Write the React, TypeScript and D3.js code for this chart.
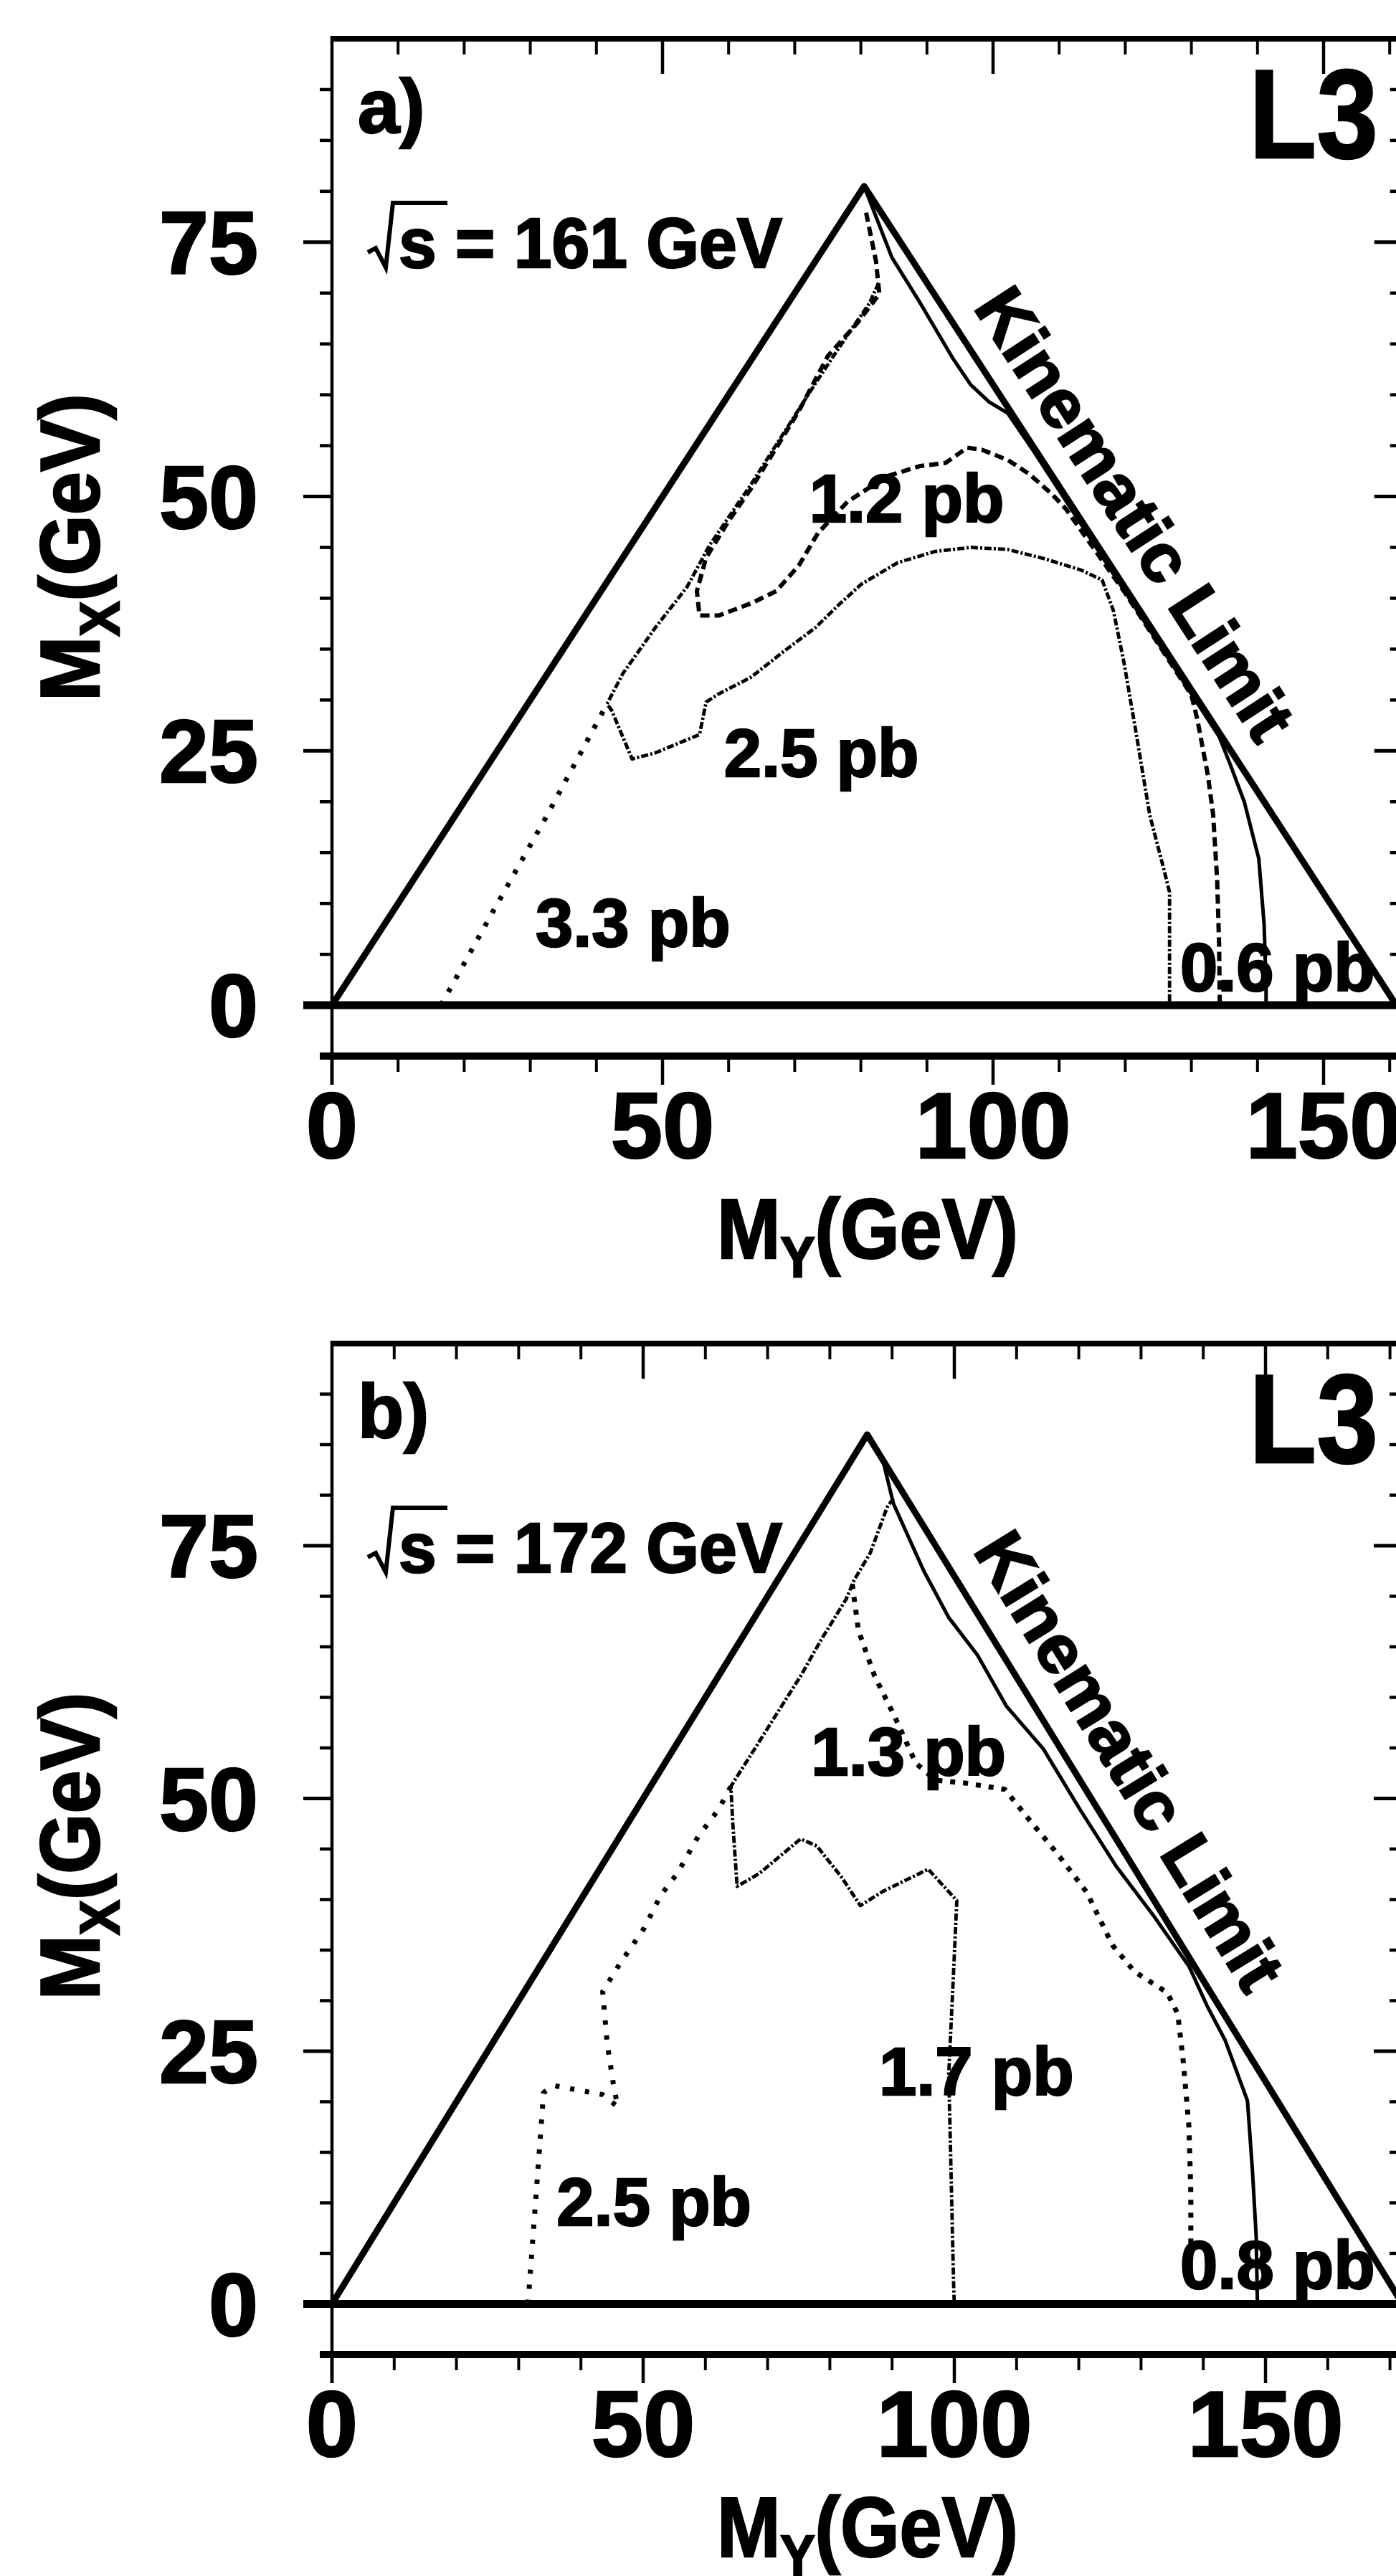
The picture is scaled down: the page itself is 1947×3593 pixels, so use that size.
import React from 'react';
import * as d3 from 'd3';

type Pt = [number, number];

// ---------------- data ----------------
const energiesGeV = [161, 172];
const panelTags = ['a)', 'b)'];
const xTickLabels = [0, 50, 100, 150];
const yTickLabels = [0, 25, 50, 75];

// panel a (sqrt(s) = 161 GeV)
const kinematicA: Pt[] = [[0, 0], [80.5, 80.5], [161, 0]];
const contour06A: Pt[] = [[80.5, 80.5], [84.7, 73.5], [89, 69], [93.9, 63.6], [96.6, 61], [99.4, 59.3], [102.2, 58.2], [106, 54.6], [115, 45.6], [125, 35.6], [134.2, 26.4], [135.8, 23.8], [138, 20], [140.2, 14.4], [141, 8], [141.3, 2], [141.3, 0]];
const contour12A: Pt[] = [[80.8, 77.9], [82.3, 73.1], [82.8, 69.9], [79.4, 67], [75, 63.8], [70.7, 58.5], [67.7, 55.3], [63.4, 50.8], [60, 47.6], [56.6, 44], [55.2, 40.7], [55.6, 38.3], [58.5, 38.3], [63.4, 39.5], [67.2, 40.7], [70.6, 43.2], [73.5, 46.4], [78, 49.5], [84, 52], [89, 53], [92.8, 53.3], [96.1, 54.8], [98.3, 54.6], [102.2, 53.6], [105.5, 52.2], [108.8, 50.3], [111, 48.8], [120, 40.5], [130, 30.5], [130.9, 28.1], [132.5, 22.6], [133.3, 18.7], [133.9, 12.3], [134.2, 5.9], [134.3, 0]];
const contour25A: Pt[] = [[82.7, 71], [81.3, 69], [77.9, 65.8], [73, 61], [68.2, 56.1], [63.4, 51.2], [57.1, 45.2], [53.7, 41.1], [48.9, 37.1], [44, 32.6], [41.6, 29.6], [42.3, 29], [45.4, 24.2], [48.9, 24.8], [55.6, 26.6], [56.6, 29.8], [58.5, 30.6], [63.3, 32.2], [68.2, 34.7], [73.1, 37.1], [76.9, 39.5], [80.1, 41.4], [85.6, 43.5], [91.2, 44.6], [96.7, 45], [102.2, 44.8], [107.7, 43.9], [113.2, 42.8], [116.5, 41.8], [118.2, 38.8], [119.8, 33.7], [121.5, 27.3], [123.7, 18.7], [125.9, 13.2], [126.7, 11.1], [126.7, 0]];
const contour33A: Pt[] = [[16.5, 0], [24, 8.8], [32.4, 18.5], [41.6, 29.6]];

// panel b (sqrt(s) = 172 GeV)
const kinematicB: Pt[] = [[0, 0], [86, 86], [172, 0]];
const contour08B: Pt[] = [[88.5, 83.5], [90.2, 79.2], [91.8, 77], [95.1, 72.5], [99.1, 67.9], [103.7, 64.2], [108.4, 59.1], [114.3, 54.9], [120.2, 48.9], [126, 43.3], [131.9, 38.5], [137.7, 33.4], [140.6, 29.5], [143.5, 26.1], [147.1, 20.1], [147.9, 13.2], [148.5, 6.7], [148.7, 0]];
const contour13B: Pt[] = [[83.6, 71.2], [84.6, 66.6], [87.2, 62.1], [90.5, 58], [93.8, 53.5], [97, 51.8], [102, 51.5], [108.1, 50.9], [111.9, 48], [116.6, 44.5], [121.3, 40.7], [125.4, 35.5], [128.9, 32.9], [134.2, 30.8], [135.9, 28.7], [136.8, 23.9], [137.7, 17.5], [138, 11], [138, 5.5]];
const contour17B: Pt[] = [[90.2, 79.7], [89.2, 78.8], [86.5, 74.3], [83.9, 71.6], [82.6, 69.7], [78.6, 65.7], [75.3, 62.1], [72, 58.9], [67.4, 54.4], [64.1, 51.2], [64.4, 47.6], [65.1, 41.3], [68.7, 42.6], [75.3, 46], [77.9, 45.3], [81.9, 42.2], [84.9, 39.4], [88.5, 40.8], [95.8, 43], [100.4, 39.9], [99.8, 31.8], [99.1, 22.7], [99.4, 15], [99.9, 1.6], [100, 0]];
const contour25B: Pt[] = [[31.5, 0], [33.3, 15], [34, 20.9], [35.6, 21.6], [43.5, 20.7], [45.9, 19.5], [45.2, 21.8], [44.2, 25.9], [43.5, 30.9], [46.2, 33.6], [50.2, 37.2], [52.8, 40.4], [55.5, 42.6], [58.8, 46.2], [62.1, 48.9], [64.1, 51.2]];

const labelsA = ['1.2 pb', '2.5 pb', '3.3 pb', '0.6 pb'];
const labelsB = ['1.3 pb', '1.7 pb', '2.5 pb', '0.8 pb'];

// ---------------- styles ----------------
const FONT = "'Liberation Sans', Arial, Helvetica, sans-serif";
const TXT = { fontFamily: FONT, fontWeight: 700, stroke: '#000', strokeWidth: 2.5 } as const;
const STROKES: Record<string, { w: number; dash?: string }> = {
  kin: { w: 9 },
  solid: { w: 5 },
  dash: { w: 6, dash: '13 7' },
  dashdot: { w: 4.8, dash: '10 3 3 3' },
  dot: { w: 7, dash: '6 15' },
  dot2: { w: 7, dash: '7 11' },
};

type Series = { pts: Pt[]; kind: string };
type Label = { text: string; at: Pt };
type PanelCfg = {
  tag: string;
  energy: number;
  xFrame: number;
  pxX: number;
  top: number;
  bottom: number;
  series: Series[];
  labels: Label[];
  kinX: number;
  kinOff: number;
};

const X0 = 463;

function Panel({ cfg }: { cfg: PanelCfg }) {
  const x = d3.scaleLinear().domain([0, cfg.xFrame]).range([X0, X0 + cfg.xFrame * cfg.pxX]);
  const y = d3.scaleLinear().domain([-5, 95]).range([cfg.bottom, cfg.top]);
  const line = d3.line<Pt>().x((d) => x(d[0])).y((d) => y(d[1]));
  const xl = x(0), xr = x(cfg.xFrame), yt = y(95), yb = y(-5), y0 = y(0);

  const xTicks = d3.range(0, cfg.xFrame - 1, 10);
  const yTicks = d3.range(-5, 95, 5);

  // kinematic limit label geometry
  const dx = x(1) - x(0);
  const dy = y(-1) - y(0);
  const ang = (Math.atan2(dy, dx) * 180) / Math.PI;
  const kx = x(cfg.kinX), ky = y(cfg.energy - cfg.kinX);

  const B = yt + 319;

  return (
    <g>
      {/* frame */}
      <line x1={xl} x2={xr + 10} y1={yt} y2={yt} stroke="#000" strokeWidth={8} />
      <line x1={xl} x2={xl} y1={yt - 4} y2={yb + 40} stroke="#000" strokeWidth={4.5} />
      <line x1={xr} x2={xr} y1={yt} y2={yb} stroke="#000" strokeWidth={5} />
      <line x1={xl - 17} x2={xr} y1={yb} y2={yb} stroke="#000" strokeWidth={10} />
      <line x1={xl - 40} x2={xr} y1={y0} y2={y0} stroke="#000" strokeWidth={11} />

      {/* x ticks: top (inward) and bottom (outward) */}
      {xTicks.map((v) => {
        const major = v % 50 === 0;
        return (
          <g key={'xt' + v}>
            {v > 0 && (
              <line x1={x(v)} x2={x(v)} y1={yt} y2={yt + (major ? 49 : 22)} stroke="#000" strokeWidth={major ? 4.5 : 4} />
            )}
            <line x1={x(v)} x2={x(v)} y1={yb} y2={yb + (major ? 40 : 22)} stroke="#000" strokeWidth={major ? 4.5 : 4} />
          </g>
        );
      })}
      {/* y ticks: left (outward) and right (inward) */}
      {yTicks.map((v) => {
        const major = v % 25 === 0;
        return (
          <g key={'yt' + v}>
            <line x1={xl - (major ? 40 : 17)} x2={xl} y1={y(v)} y2={y(v)} stroke="#000" strokeWidth={major ? 5 : 4.5} />
            <line x1={xr - (major ? 40 : 18)} x2={xr} y1={y(v)} y2={y(v)} stroke="#000" strokeWidth={major ? 5 : 4.5} />
          </g>
        );
      })}

      {/* tick labels */}
      {xTickLabels.map((v) => (
        <text key={'xl' + v} x={x(v)} y={yb + 142} textAnchor="middle" {...TXT} fontSize={130}>
          {v}
        </text>
      ))}
      {yTickLabels.map((v) => (
        <text key={'yl' + v} x={360} y={y(v) + 44} textAnchor="end" {...TXT} fontSize={124}>
          {v}
        </text>
      ))}

      {/* axis titles */}
      <text x={1000} y={yb + 282} {...TXT} fontSize={118} textLength={420} lengthAdjust="spacingAndGlyphs">
        M<tspan dy={26} fontSize={80}>Y</tspan>
        <tspan dy={-26}>(GeV)</tspan>
      </text>
      <g transform={`translate(138, ${y0 - 424}) rotate(-90)`}>
        <text x={0} y={0} {...TXT} fontSize={116} textLength={429} lengthAdjust="spacingAndGlyphs">
          M<tspan dy={28} fontSize={78}>X</tspan>
          <tspan dy={-28}>(GeV)</tspan>
        </text>
      </g>

      {/* curves */}
      {cfg.series.map((s, i) => {
        const st = STROKES[s.kind];
        return (
          <path
            key={'s' + i}
            d={line(s.pts) || ''}
            fill="none"
            stroke="#000"
            strokeWidth={st.w}
            strokeDasharray={st.dash}
            strokeLinejoin="round"
          />
        );
      })}

      {/* labels */}
      <text x={499} y={yt + 131} {...TXT} fontSize={105}>{cfg.tag}</text>
      <text x={1742} y={yt + 166} {...TXT} fontSize={176} textLength={180} lengthAdjust="spacingAndGlyphs">L3</text>
      <path d={`M513 ${B - 21} L524 ${B - 27} L538 ${B} L548 ${B - 90} L624 ${B - 90}`} fill="none" stroke="#000" strokeWidth={6} />
      <text x={556} y={B} {...TXT} fontSize={98} textLength={535} lengthAdjust="spacingAndGlyphs">
        {`s = ${cfg.energy} GeV`}
      </text>
      {cfg.labels.map((l, i) => (
        <text key={'l' + i} x={x(l.at[0])} y={y(l.at[1])} {...TXT} fontSize={94}>
          {l.text}
        </text>
      ))}
      <g transform={`translate(${kx}, ${ky}) rotate(${ang})`}>
        <text x={0} y={-cfg.kinOff} textAnchor="middle" {...TXT} fontSize={96} textLength={730} lengthAdjust="spacingAndGlyphs">
          Kinematic Limit
        </text>
      </g>
    </g>
  );
}

export default function App() {
  const panelA: PanelCfg = {
    tag: panelTags[0],
    energy: energiesGeV[0],
    xFrame: 162,
    pxX: 9.22,
    top: 54,
    bottom: 1473,
    kinX: 115.3,
    kinOff: 35,
    series: [
      { pts: kinematicA, kind: 'kin' },
      { pts: contour33A, kind: 'dot' },
      { pts: contour25A, kind: 'dashdot' },
      { pts: contour12A, kind: 'dash' },
      { pts: contour06A, kind: 'solid' },
    ],
    labels: [
      { text: labelsA[0], at: [72.2, 47.5] },
      { text: labelsA[1], at: [59.3, 22.5] },
      { text: labelsA[2], at: [30.8, 5.8] },
      { text: labelsA[3], at: [128.3, 1.4] },
    ],
  };
  const panelB: PanelCfg = {
    tag: panelTags[1],
    energy: energiesGeV[1],
    xFrame: 172,
    pxX: 8.68,
    top: 1874,
    bottom: 3284,
    kinX: 121,
    kinOff: 40,
    series: [
      { pts: kinematicB, kind: 'kin' },
      { pts: contour25B, kind: 'dot' },
      { pts: contour17B, kind: 'dashdot' },
      { pts: contour13B, kind: 'dot2' },
      { pts: contour08B, kind: 'solid' },
    ],
    labels: [
      { text: labelsB[0], at: [77, 52.3] },
      { text: labelsB[1], at: [87.9, 20.7] },
      { text: labelsB[2], at: [36.1, 7.8] },
      { text: labelsB[3], at: [136.3, 1.5] },
    ],
  };
  return (
    <svg
      width={1947}
      height={3593}
      viewBox="0 0 1947 3593"
      style={{ position: 'absolute', left: 0, top: 0, background: '#fff' }}
    >
      <rect x={0} y={0} width={1947} height={3593} fill="#fff" />
      <Panel cfg={panelA} />
      <Panel cfg={panelB} />
    </svg>
  );
}
